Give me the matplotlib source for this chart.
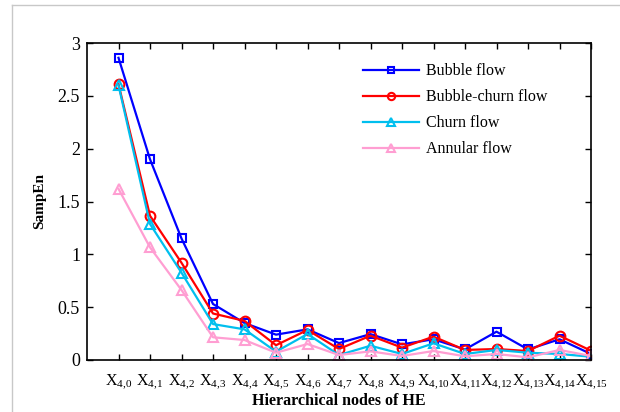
import numpy as np
import matplotlib
matplotlib.use('Agg')
import matplotlib.pyplot as plt
from matplotlib.lines import Line2D

plt.rcParams['font.family'] = 'Liberation Serif'
plt.rcParams['mathtext.fontset'] = 'custom'
plt.rcParams['mathtext.rm'] = 'Liberation Serif'
plt.rcParams['mathtext.it'] = 'Liberation Serif:italic'

# node labels X4,0 ... X4,15
nodes = [r'$\mathrm{X}_{4{,}%d}$' % i for i in range(16)]

bubble = [2.86, 1.90, 1.15, 0.53, 0.35, 0.24, 0.29, 0.16, 0.245, 0.148, 0.196, 0.10, 0.268, 0.10, 0.196, 0.057]
bubble_churn = [2.61, 1.365, 0.92, 0.44, 0.37, 0.14, 0.284, 0.104, 0.23, 0.117, 0.221, 0.095, 0.104, 0.085, 0.23, 0.088]
churn = [2.60, 1.287, 0.826, 0.34, 0.29, 0.079, 0.246, 0.047, 0.135, 0.057, 0.158, 0.057, 0.095, 0.069, 0.057, 0.031]
annular = [1.62, 1.066, 0.662, 0.215, 0.189, 0.069, 0.151, 0.047, 0.082, 0.038, 0.085, 0.035, 0.057, 0.025, 0.095, 0.038]

fig = plt.figure(figsize=(6.2, 4.12), dpi=100)
ax = fig.add_axes([87 / 620, 1 - 360 / 412, 504 / 620, 317 / 412])

x = np.arange(len(nodes))
ax.plot(x, bubble, color='#0000ff', lw=1.6, marker='s', ms=6, mfc='none', mew=1.5, label='Bubble flow')
ax.plot(x, bubble_churn, color='#ff0000', lw=1.6, marker='o', ms=7, mfc='none', mew=1.5, label='Bubble-churn flow')
ax.plot(x, churn, color='#00bfee', lw=1.6, marker='^', ms=7, mfc='none', mew=1.5, label='Churn flow')
ax.plot(x, annular, color='#ff9ed2', lw=1.6, marker='^', ms=7, mfc='none', mew=1.5, label='Annular flow')

ax.set_xlim(-1, 15)
ax.set_ylim(0, 3)
ax.set_xticks(x)
ax.set_xticklabels(nodes, fontsize=11.5)
ax.set_yticks([0, 0.5, 1, 1.5, 2, 2.5, 3])
ax.set_yticklabels(['0', '0.5', '1', '1.5', '2', '2.5', '3'], fontsize=13)
ax.tick_params(direction='in', top=True, right=True, length=4, width=1)
ax.tick_params(axis='x', pad=9)
ax.tick_params(axis='y', pad=5)
for s in ax.spines.values():
    s.set_linewidth(1.2)

ax.set_xlabel('Hierarchical nodes of HE', fontsize=11.5, fontweight='bold', labelpad=1)
ax.set_ylabel('SampEn', fontsize=11, fontweight='bold', labelpad=8)

ax.legend(loc='upper left', bbox_to_anchor=(0.52, 0.981), frameon=False, fontsize=11.5,
          handlelength=3.5, handletextpad=0.4, labelspacing=0.62, markerscale=0.75)

# thin gray frame around the figure area
fig.add_artist(Line2D([12 / 620, 1], [1 - 5 / 412, 1 - 5 / 412], color='#c8c8c8', lw=1))
fig.add_artist(Line2D([12 / 620, 12 / 620], [0, 1 - 5 / 412], color='#c8c8c8', lw=1))

fig.savefig('out.png', dpi=100)
